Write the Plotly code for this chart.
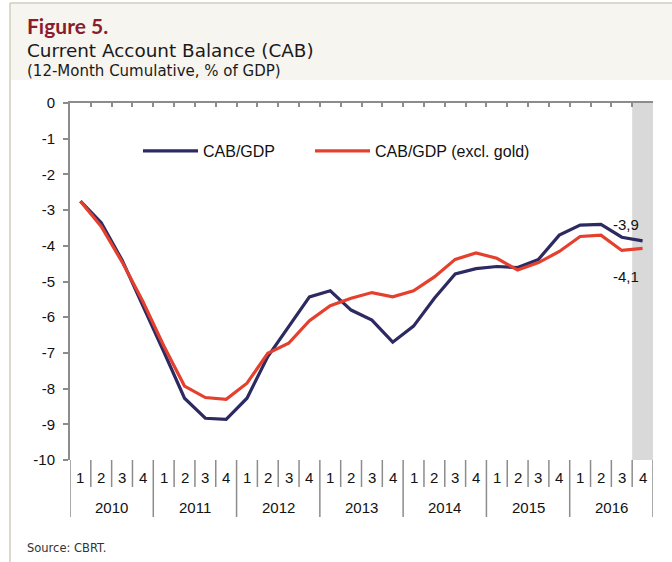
import plotly.graph_objects as go

years = ["2010", "2011", "2012", "2013", "2014", "2015", "2016"]
quarters = ["1", "2", "3", "4"]
cab_gdp = [-2.75, -3.35, -4.40, -5.66, -6.96, -8.27, -8.83, -8.86,
           -8.27, -7.10, -6.27, -5.43, -5.26, -5.80, -6.08, -6.70,
           -6.25, -5.47, -4.79, -4.64, -4.58, -4.61, -4.38, -3.70,
           -3.42, -3.40, -3.76, -3.86]
cab_gdp_ex_gold = [-2.75, -3.46, -4.45, -5.56, -6.80, -7.93, -8.25, -8.30,
                   -7.85, -7.01, -6.73, -6.10, -5.68, -5.47, -5.31, -5.43,
                   -5.26, -4.87, -4.38, -4.20, -4.35, -4.68, -4.47, -4.16,
                   -3.74, -3.70, -4.13, -4.07]
end_labels = ["-3,9", "-4,1"]
y_ticks = [0, -1, -2, -3, -4, -5, -6, -7, -8, -9, -10]
y_tick_text = ["0", "-1", "-2", "-3", "-4", "-5", "-6", "-7", "-8", "-9", "-10"]

W, H = 672, 562
L, R, T, B = 70, 653, 103, 460
def px(xp):
    return (xp - L) / (R - L)
def py(yp):
    return (B - yp) / (B - T)

n = len(years) * len(quarters)
xs = list(range(n))
FONT = "Liberation Sans, Arial, sans-serif"
NAVY = "#2D2A62"
RED = "#E5402E"
GRAY = "#8C8C8C"

fig = go.Figure()
fig.add_trace(go.Scatter(x=xs, y=cab_gdp, mode="lines", name="CAB/GDP",
                         line=dict(color=NAVY, width=3.2), legend="legend"))
fig.add_trace(go.Scatter(x=xs, y=cab_gdp_ex_gold, mode="lines", name="CAB/GDP (excl. gold)",
                         line=dict(color=RED, width=3.2), legend="legend2"))

shapes = []
# header background and border
shapes.append(dict(type="rect", xref="paper", yref="paper", x0=px(10), x1=px(W + 5), y0=py(80), y1=py(3),
                   fillcolor="#F7F5F0", line=dict(width=0), layer="below"))
shapes.append(dict(type="line", xref="paper", yref="paper", x0=px(10), x1=px(W + 5), y0=py(3), y1=py(3),
                   line=dict(color="#D3CCBB", width=1.5)))
shapes.append(dict(type="line", xref="paper", yref="paper", x0=px(10), x1=px(10), y0=py(3), y1=py(H + 5),
                   line=dict(color="#D3CCBB", width=1.5)))
# shaded last quarter
shapes.append(dict(type="rect", xref="x", yref="y", x0=n - 1.5, x1=n - 0.5, y0=-10, y1=0,
                   fillcolor="#D9D9D9", line=dict(width=0), layer="below"))
# category separators
for i in range(n + 1):
    xb = i - 0.5
    long = (i % 4 == 0)
    shapes.append(dict(type="line", xref="x", yref="paper", x0=xb, x1=xb, y0=py(517 if long else 487), y1=0,
                       line=dict(color=GRAY, width=1.5)))

annotations = []
for yi, yr in enumerate(years):
    for qi, q in enumerate(quarters):
        annotations.append(dict(x=yi * 4 + qi, y=py(477), xref="x", yref="paper", yanchor="middle",
                                text=q, showarrow=False,
                                font=dict(family=FONT, size=15, color="#111")))
    annotations.append(dict(x=yi * 4 + 1.5, y=py(507), xref="x", yref="paper", yanchor="middle",
                            text=yr, showarrow=False,
                            font=dict(family=FONT, size=15, color="#111")))
annotations.append(dict(x=n - 1, y=cab_gdp[-1], xref="x", yref="y", text=end_labels[0], showarrow=False,
                        xshift=-17, yshift=16, font=dict(family=FONT, size=15, color="#111")))
annotations.append(dict(x=n - 1, y=cab_gdp_ex_gold[-1], xref="x", yref="y", text=end_labels[1], showarrow=False,
                        xshift=-17, yshift=-28, font=dict(family=FONT, size=15, color="#111")))
TFONT = "DejaVu Sans, sans-serif"
annotations.append(dict(x=px(25), y=py(25), xref="paper", yref="paper", xanchor="left", yanchor="middle",
                        text="<b>Figure 5.</b>", showarrow=False, font=dict(family="Lato, sans-serif", size=21, color="#8B1C2C")))
annotations.append(dict(x=px(25), y=py(50), xref="paper", yref="paper", xanchor="left", yanchor="middle",
                        text="Current Account Balance (CAB)", showarrow=False,
                        font=dict(family=TFONT, size=18.4, color="#1a1a1a")))
annotations.append(dict(x=px(25), y=py(71), xref="paper", yref="paper", xanchor="left", yanchor="middle",
                        text="(12-Month Cumulative, % of GDP)", showarrow=False,
                        font=dict(family=TFONT, size=15, color="#1a1a1a")))
annotations.append(dict(x=px(25), y=py(548), xref="paper", yref="paper", xanchor="left", yanchor="middle",
                        text="Source: CBRT.", showarrow=False, font=dict(family=TFONT, size=11.5, color="#333")))

leg_common = dict(orientation="h", yanchor="middle", xanchor="left", bgcolor="rgba(0,0,0,0)",
                  font=dict(family=FONT, size=16, color="#111"), itemwidth=55)
fig.update_layout(
    width=W, height=H,
    margin=dict(l=L, r=W - R, t=T, b=H - B),
    paper_bgcolor="white", plot_bgcolor="white",
    shapes=shapes, annotations=annotations,
    showlegend=True,
    legend=dict(x=px(138), y=py(151), **leg_common),
    legend2=dict(x=px(310), y=py(151), **leg_common),
    xaxis=dict(range=[-0.5, n - 0.5], side="top", showline=True, linecolor=GRAY, linewidth=2,
               ticks="inside", ticklen=4, tickcolor=GRAY, tickwidth=2,
               tickvals=[i - 0.5 for i in range(n + 1)], showticklabels=False,
               showgrid=False, zeroline=False, fixedrange=True),
    yaxis=dict(range=[-10, 0], showline=True, linecolor=GRAY, linewidth=2,
               ticks="outside", ticklen=5, tickcolor=GRAY, tickwidth=2,
               tickvals=y_ticks, ticktext=y_tick_text, ticklabelstandoff=5,
               tickfont=dict(family=FONT, size=15, color="#111"),
               showgrid=False, zeroline=False, fixedrange=True),
)
fig.write_html("out.html", config={"displayModeBar": False},
               post_script="document.body.style.margin='0';document.body.style.overflow='hidden';")
